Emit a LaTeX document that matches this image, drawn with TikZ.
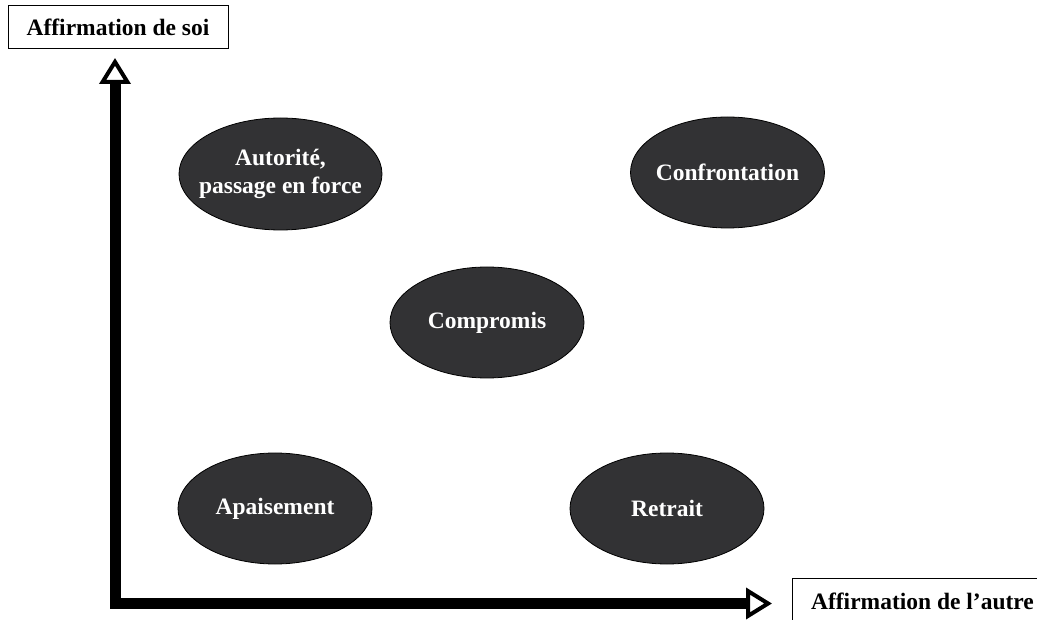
\documentclass[tikz,border=0pt]{standalone}
\usepackage{fontspec}
\setmainfont{Liberation Serif}
\usetikzlibrary{arrows.meta,shapes.geometric}
\definecolor{ellfill}{RGB}{50,50,52}
\begin{document}
\begin{tikzpicture}[x=1pt,y=-1pt,
  ell/.style={ellipse, draw=black, line width=0.8pt, fill=ellfill,
    minimum width=194pt, minimum height=111pt, inner sep=-30pt,
    text=white, align=center, font=\fontsize{23.5}{28}\selectfont\bfseries},
  lab/.style={draw=black, line width=1pt, inner sep=0pt,
    font=\fontsize{23.5}{28}\selectfont\bfseries},
  axtip/.tip={Triangle[open, line width=4pt, length=26pt, width=31pt]},
  axis/.style={line width=11pt, line join=miter, {axtip}-{axtip}}]
\useasboundingbox (0,0) rectangle (1037,620);
\clip (0,0) rectangle (1037,620);
% boxes
\node[lab, minimum width=220pt, minimum height=43pt] (soi) at (118,27.5) {Affirmation de soi};
\node[lab, anchor=north west, inner xsep=12pt, inner ysep=14pt, minimum width=260pt] (autre) at (792,578) {Affirmation de l’autre\hspace{20pt}};
% axes
\coordinate (ytip) at (115,58);
\coordinate (xtip) at (772,603.5);
\draw[axis] (ytip) |- (xtip);
% ellipses
\node[ell, minimum width=203pt, minimum height=112pt] (auto) at (280.5,174) {Autorité,\\passage en force};
\node[ell] (conf) at (727.5,172.5) {Confrontation};
\node[ell] (comp) at (487,322.5) {Compromis};
\node[ell] (apai) at (275,508.5) {Apaisement};
\node[ell] (retr) at (667,508.5) {Retrait};
\end{tikzpicture}
\end{document}
